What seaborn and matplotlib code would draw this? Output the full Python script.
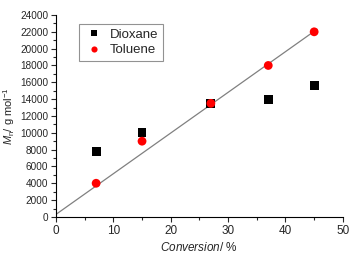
import numpy as np
import pandas as pd
import matplotlib
matplotlib.use("Agg")
import matplotlib.pyplot as plt
import seaborn as sns
from matplotlib.ticker import MultipleLocator

# data
conversion = [7, 15, 27, 37, 45]
mn_dioxane = [7800, 10000, 13500, 14000, 15600]
mn_toluene = [4000, 9000, 13500, 18000, 22000]
fit_x = [0, 45.5]
fit_y = [300, 22300]

df = pd.DataFrame({
    "conv": conversion * 2,
    "mn": mn_dioxane + mn_toluene,
    "solvent": ["Dioxane"] * 5 + ["Toluene"] * 5,
})

sns.set_style("ticks")
plt.rcParams["font.family"] = ["Liberation Sans", "DejaVu Sans"]
plt.rcParams["mathtext.fontset"] = "custom"
plt.rcParams["mathtext.rm"] = "Liberation Sans"
plt.rcParams["mathtext.it"] = "Liberation Sans:italic"

fig = plt.figure(figsize=(3.52, 2.54), dpi=100)
ax = fig.add_axes([0.159, 0.146, 0.815, 0.795])

ax.plot(fit_x, fit_y, color="#808080", lw=0.9, zorder=1)
sns.scatterplot(data=df, x="conv", y="mn", hue="solvent", style="solvent",
                palette={"Dioxane": "black", "Toluene": "red"},
                markers={"Dioxane": "s", "Toluene": "o"},
                s=40, linewidth=0, ax=ax, zorder=3)

ax.set_xlim(0, 50)
ax.set_ylim(0, 24000)
ax.xaxis.set_major_locator(MultipleLocator(10))
ax.xaxis.set_minor_locator(MultipleLocator(5))
ax.yaxis.set_major_locator(MultipleLocator(2000))
ax.yaxis.set_minor_locator(MultipleLocator(1000))
ax.tick_params(axis="y", which="major", length=3.5, width=0.8, labelsize=7.2, pad=2)
ax.tick_params(axis="x", which="major", length=3.5, width=0.8, labelsize=8.5, pad=2)
ax.tick_params(which="minor", length=2, width=0.8)
for s in ["left", "bottom"]:
    ax.spines[s].set_linewidth(0.8)
    ax.spines[s].set_color("black")
sns.despine(ax=ax)

ax.set_xlabel("$\\it{Conversion}$/ %", fontsize=8.5, labelpad=3)
ax.set_ylabel("$\\it{M}_\\mathrm{n}$/ g mol$^{-1}$", fontsize=8, labelpad=2)

leg = ax.legend(loc="upper left", bbox_to_anchor=(0.08, 0.955), fontsize=9.5,
                frameon=True, fancybox=False, edgecolor="#777777",
                markerscale=0.7, handletextpad=0.4, borderpad=0.35,
                labelspacing=0.25, handlelength=1.6, borderaxespad=0)
leg.get_frame().set_linewidth(0.8)

fig.savefig("out.png", dpi=100)
